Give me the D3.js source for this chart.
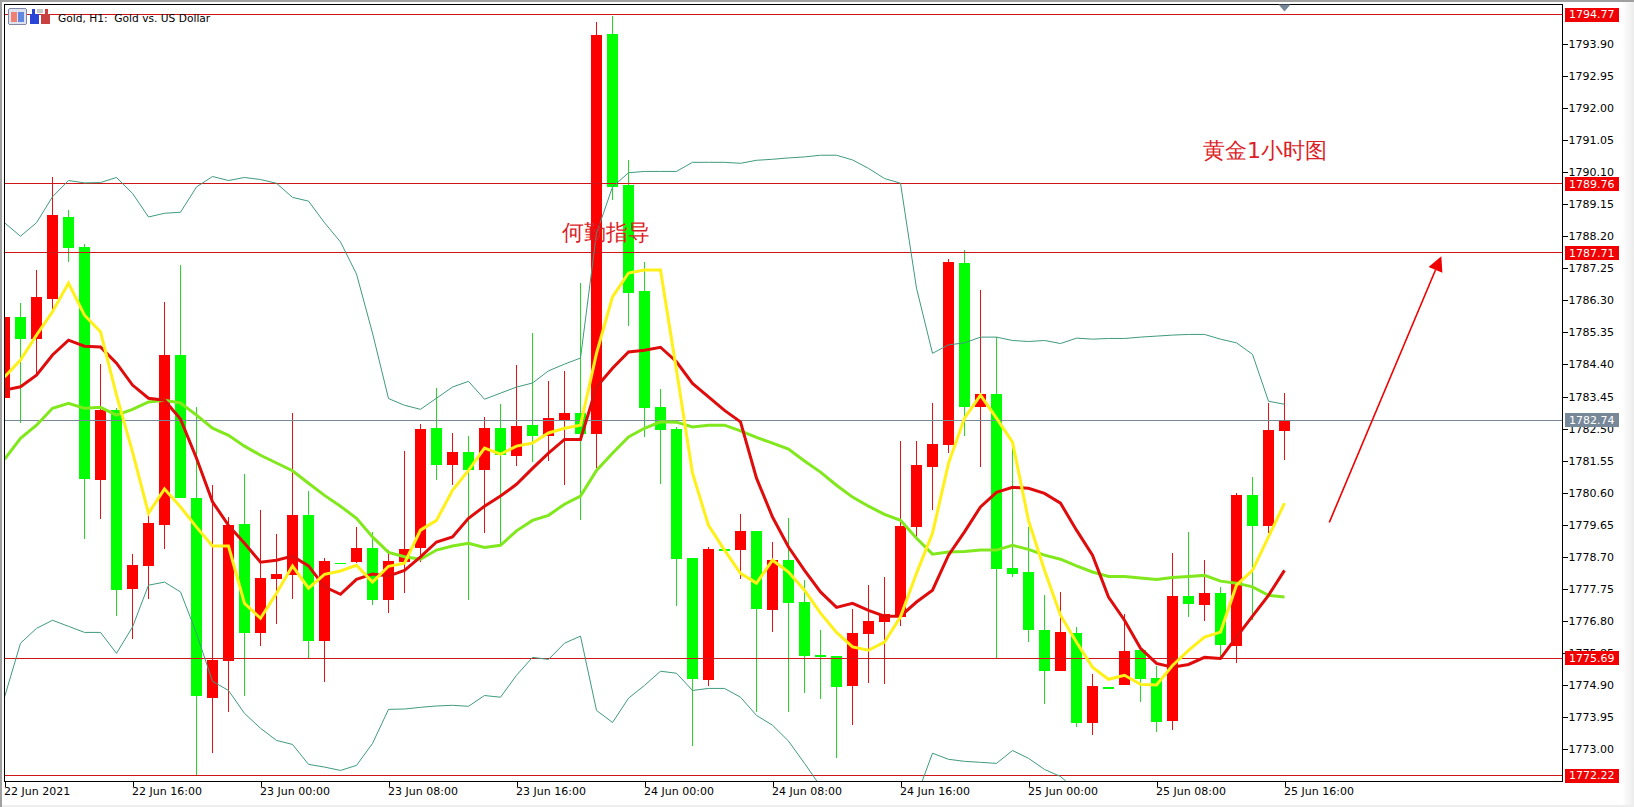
<!DOCTYPE html>
<html><head><meta charset="utf-8">
<script src="https://d3js.org/d3.v7.min.js"></script>
<style>html,body{margin:0;padding:0;background:#fff;overflow:hidden}svg{display:block}text{font-family:"DejaVu Sans",sans-serif}</style>
</head><body><svg id="c" width="1634" height="807"></svg>
<script>
const symbolTitle = "Gold, H1:  Gold vs. US Dollar";
const opens = [1783.40,1785.82,1785.15,1786.34,1788.77,1787.88,1780.98,1783.04,1777.74,1778.43,1779.63,1784.68,1780.44,1774.52,1775.62,1779.66,1776.44,1778.03,1778.16,1779.93,1776.21,1778.52,1778.54,1778.96,1777.41,1778.55,1778.96,1782.51,1781.41,1781.80,1781.26,1782.51,1781.68,1782.60,1782.27,1782.75,1782.96,1782.33,1794.19,1789.72,1786.57,1783.13,1782.48,1778.66,1775.04,1778.92,1778.90,1779.46,1777.11,1778.60,1777.35,1775.78,1775.75,1774.86,1776.40,1776.76,1776.92,1779.59,1781.36,1782.02,1787.40,1783.14,1783.52,1778.36,1778.24,1776.52,1775.32,1776.43,1773.79,1774.84,1774.89,1775.93,1775.10,1773.83,1777.53,1777.26,1777.62,1776.06,1780.52,1779.61,1782.42];
const closes = [1785.81,1785.15,1786.41,1788.83,1787.86,1781.00,1783.04,1777.71,1778.45,1779.69,1784.68,1780.44,1774.58,1775.64,1779.63,1776.44,1778.06,1778.18,1779.93,1776.21,1778.57,1778.52,1778.96,1777.41,1778.57,1778.93,1782.50,1781.41,1781.80,1781.26,1782.51,1781.71,1782.57,1782.27,1782.81,1782.96,1782.33,1794.16,1789.66,1786.52,1783.10,1782.45,1778.63,1775.07,1778.92,1778.92,1779.46,1777.14,1778.60,1777.33,1775.75,1775.78,1774.84,1776.43,1776.79,1777.02,1779.61,1781.41,1782.04,1787.43,1783.14,1783.52,1778.34,1778.19,1776.52,1775.32,1776.46,1773.79,1774.86,1774.84,1775.90,1775.07,1773.82,1777.53,1777.29,1777.62,1776.08,1780.52,1779.61,1782.45,1782.74];
const highs = [1785.81,1786.23,1787.20,1789.96,1788.97,1787.97,1784.41,1783.10,1778.78,1779.93,1786.26,1787.34,1783.14,1780.82,1779.87,1781.15,1780.08,1779.37,1782.96,1780.64,1778.66,1778.52,1779.58,1779.43,1778.90,1781.83,1782.63,1783.70,1782.37,1782.28,1782.85,1783.22,1784.38,1785.34,1783.90,1784.20,1786.81,1794.55,1794.73,1790.46,1787.43,1783.67,1782.55,1778.66,1779.00,1778.92,1779.96,1779.46,1779.13,1779.84,1778.00,1776.52,1775.75,1777.14,1777.86,1778.09,1782.13,1782.13,1783.25,1787.52,1787.79,1786.60,1785.21,1781.92,1779.58,1777.56,1777.65,1776.61,1775.22,1774.84,1777.00,1775.93,1775.45,1778.80,1779.43,1778.60,1777.80,1780.58,1781.07,1783.25,1783.55];
const lows = [1783.40,1782.66,1784.08,1786.01,1787.44,1779.23,1779.82,1776.95,1776.26,1777.44,1778.92,1780.44,1772.22,1772.88,1774.10,1774.58,1776.05,1776.71,1777.44,1775.69,1775.00,1778.52,1778.51,1777.27,1777.04,1777.63,1778.55,1780.97,1780.82,1777.41,1779.40,1779.07,1781.38,1781.50,1781.53,1780.82,1779.78,1781.32,1789.27,1785.53,1782.24,1780.85,1777.23,1773.08,1774.86,1778.92,1778.03,1774.10,1776.47,1774.10,1774.65,1774.48,1772.74,1773.71,1774.95,1774.93,1776.65,1779.29,1780.08,1781.78,1782.28,1781.36,1775.69,1778.10,1776.17,1774.34,1775.32,1773.65,1773.41,1774.84,1774.89,1774.39,1773.50,1773.56,1776.91,1776.79,1775.73,1775.55,1776.82,1779.40,1781.56];
const bandUpper = [1788.60,1788.20,1788.60,1789.37,1789.85,1789.78,1789.79,1789.94,1789.47,1788.77,1788.88,1788.91,1789.66,1789.97,1789.85,1789.94,1789.88,1789.77,1789.35,1789.24,1788.60,1788.03,1787.08,1785.33,1783.39,1783.19,1783.07,1783.40,1783.73,1783.90,1783.37,1783.55,1783.73,1783.85,1784.21,1784.41,1784.59,1788.29,1789.66,1790.08,1790.12,1790.12,1790.12,1790.39,1790.39,1790.39,1790.36,1790.45,1790.48,1790.52,1790.55,1790.60,1790.60,1790.46,1790.21,1789.91,1789.77,1786.66,1784.73,1784.98,1785.04,1785.21,1785.21,1785.11,1785.08,1785.11,1785.02,1785.18,1785.15,1785.17,1785.17,1785.21,1785.24,1785.27,1785.29,1785.29,1785.15,1785.04,1784.70,1783.31,1783.22];
const bandLower = [1774.54,1776.14,1776.58,1776.82,1776.64,1776.46,1776.46,1775.84,1776.62,1777.86,1777.95,1777.66,1776.43,1775.01,1774.74,1774.06,1773.62,1773.26,1773.14,1772.55,1772.47,1772.37,1772.52,1773.17,1774.18,1774.19,1774.24,1774.28,1774.30,1774.27,1774.59,1774.54,1775.19,1775.72,1775.66,1776.14,1776.35,1774.15,1773.79,1774.51,1774.89,1775.31,1775.25,1774.74,1774.80,1774.80,1774.54,1774.00,1773.71,1773.24,1772.58,1771.90,1771.33,1770.89,1770.59,1770.44,1770.74,1771.60,1772.88,1772.70,1772.64,1772.61,1772.58,1772.96,1772.73,1772.40,1772.19,1771.78,1771.20,1770.50,1769.90,1769.50,1769.30,1769.20,1769.10,1769.20,1769.30,1769.40,1769.80,1770.40,1770.80];
const maFast = [1784.03,1784.53,1785.27,1785.96,1786.81,1785.86,1785.37,1783.49,1781.81,1779.99,1780.71,1780.18,1779.58,1779.02,1779.02,1777.32,1776.88,1777.62,1778.43,1777.77,1778.18,1778.28,1778.45,1777.95,1778.42,1778.51,1779.49,1779.78,1780.67,1781.26,1781.92,1781.74,1781.98,1782.07,1782.37,1782.51,1782.60,1784.73,1786.40,1787.11,1787.20,1787.20,1784.23,1781.18,1779.63,1778.90,1778.21,1777.92,1778.60,1778.25,1777.71,1777.03,1776.46,1776.03,1775.93,1776.17,1776.92,1778.21,1779.40,1781.47,1782.81,1783.49,1782.81,1782.10,1779.78,1778.30,1776.97,1776.17,1775.43,1775.07,1775.19,1774.92,1774.90,1775.48,1775.93,1776.32,1776.47,1777.86,1778.30,1779.29,1780.29];
const maMid = [1783.64,1783.74,1784.08,1784.68,1785.12,1784.94,1784.92,1784.44,1783.79,1783.40,1783.34,1782.78,1781.62,1780.33,1779.63,1779.10,1778.54,1778.60,1778.72,1778.43,1777.81,1777.59,1778.03,1778.19,1778.13,1778.30,1778.70,1779.14,1779.29,1779.84,1780.20,1780.50,1780.85,1781.32,1781.77,1782.18,1782.18,1783.73,1784.29,1784.77,1784.82,1784.91,1784.48,1783.84,1783.44,1783.04,1782.70,1781.03,1779.88,1778.99,1778.30,1777.66,1777.20,1777.32,1777.11,1776.94,1776.94,1777.36,1777.71,1778.75,1779.44,1780.18,1780.61,1780.76,1780.73,1780.58,1780.29,1779.49,1778.75,1777.51,1776.82,1775.99,1775.54,1775.43,1775.51,1775.72,1775.69,1776.32,1776.94,1777.56,1778.30];
const maSlow = [1781.59,1782.21,1782.60,1783.10,1783.25,1783.10,1783.13,1782.90,1783.07,1783.29,1783.34,1783.26,1782.90,1782.51,1782.30,1781.98,1781.71,1781.48,1781.25,1780.88,1780.52,1780.20,1779.84,1779.29,1778.83,1778.70,1778.63,1778.90,1779.02,1779.10,1778.98,1779.04,1779.47,1779.78,1779.93,1780.26,1780.50,1781.26,1781.77,1782.25,1782.51,1782.70,1782.69,1782.55,1782.60,1782.60,1782.43,1782.24,1782.07,1781.89,1781.54,1781.21,1780.82,1780.47,1780.20,1779.96,1779.78,1779.25,1778.78,1778.84,1778.86,1778.90,1778.90,1779.04,1778.92,1778.75,1778.63,1778.43,1778.25,1778.12,1778.12,1778.07,1778.03,1778.09,1778.12,1778.15,1777.98,1777.92,1777.81,1777.56,1777.51];
const priceTicks = [1793.90,1792.95,1792.00,1791.05,1790.10,1789.15,1788.20,1787.25,1786.30,1785.35,1784.40,1783.45,1782.50,1781.55,1780.60,1779.65,1778.70,1777.75,1776.80,1775.85,1774.90,1773.95,1773.00];
const levels = [1794.77,1789.76,1787.71,1775.69,1772.22];
const lastPrice = 1782.74;
const timeTickIndex = [0,8,16,24,32,40,48,56,64,72,80];
const timeTickLabels = ["22 Jun 2021","22 Jun 16:00","23 Jun 00:00","23 Jun 08:00","23 Jun 16:00","24 Jun 00:00","24 Jun 08:00","24 Jun 16:00","25 Jun 00:00","25 Jun 08:00","25 Jun 16:00"];
const notes = [{text:"何勤指导",i:34.85,p:1788.08},{text:"黄金1小时图",i:74.9,p:1790.52}];
const arrowFrom = {i:82.8,p:1779.72}, arrowTo = {i:89.8,p:1787.61};

const W=1634,H=807,L=4.5,R=1562.5,T=4.5,B=781.5;
const svg=d3.select("#c");
const x=d3.scaleLinear().domain([0,80]).range([4.5,1284.5]);
const y=d3.scaleLinear().domain([1772.22,1794.77]).range([775.5,14.5]);
const RED="#ff0000",GRN="#00ff00";

// window chrome
svg.append("rect").attr("width",W).attr("height",H).attr("fill","#fff");
const grad=svg.append("defs").append("linearGradient").attr("id","edge");
grad.append("stop").attr("offset",0).attr("stop-color","#fff");
grad.append("stop").attr("offset",1).attr("stop-color","#ececec");
svg.append("rect").attr("x",1622).attr("y",0).attr("width",12).attr("height",H).attr("fill","url(#edge)");
svg.append("rect").attr("x",0).attr("y",805).attr("width",W).attr("height",2).attr("fill","#eeeeee");
svg.append("rect").attr("x",0).attr("y",0).attr("width",W).attr("height",2).attr("fill","#a0a0a0");
svg.append("rect").attr("x",0).attr("y",0).attr("width",2).attr("height",H).attr("fill","#a0a0a0");

svg.select("defs").append("clipPath").attr("id","plot").append("rect")
  .attr("x",L).attr("y",T).attr("width",R-L).attr("height",B-T);
const plot=svg.append("g").attr("clip-path","url(#plot)");

// candles
const candles=d3.range(opens.length).map(i=>({i,o:opens[i],c:closes[i],h:highs[i],l:lows[i]}));
const isUp=d=>d.c>d.o;
plot.append("g").attr("shape-rendering","crispEdges").selectAll("line").data(candles).join("line")
  .attr("x1",d=>x(d.i)).attr("x2",d=>x(d.i)).attr("y1",d=>y(d.h)).attr("y2",d=>y(d.l))
  .attr("stroke",d=>isUp(d)?"#e81010":"#28d828").attr("stroke-width",1);
plot.append("g").attr("shape-rendering","crispEdges").selectAll("rect").data(candles).join("rect")
  .attr("x",d=>x(d.i)-5.5).attr("width",11)
  .attr("y",d=>y(Math.max(d.o,d.c))).attr("height",d=>Math.max(1.5,y(Math.min(d.o,d.c))-y(Math.max(d.o,d.c))))
  .attr("fill",d=>isUp(d)?RED:GRN);

// horizontal levels
plot.append("g").attr("shape-rendering","crispEdges").selectAll("line").data(levels).join("line")
  .attr("x1",L).attr("x2",R).attr("y1",d=>y(d)).attr("y2",d=>y(d)).attr("stroke","#cf1515");
plot.append("line").attr("shape-rendering","crispEdges").attr("x1",L).attr("x2",R).attr("y1",y(lastPrice)).attr("y2",y(lastPrice)).attr("stroke","#778899");

// indicators
const line=d3.line().x((d,i)=>x(i)).y(d=>y(d));
[[bandUpper,"#3f9a7e",1],[bandLower,"#3f9a7e",1],[maSlow,"#80e81c",3],[maMid,"#e00c0c",3],[maFast,"#fff018",3]].forEach(([s,col,w])=>{
  plot.append("path").datum(s).attr("d",line).attr("fill","none").attr("stroke",col).attr("stroke-width",w).attr("stroke-linejoin","miter");
});

// frame
svg.append("rect").attr("x",L).attr("y",T).attr("width",R-L).attr("height",B-T).attr("fill","none").attr("stroke","#000").attr("shape-rendering","crispEdges");

// price axis
const axR=svg.append("g").attr("transform",`translate(${R},0)`).call(d3.axisRight(y).tickValues(priceTicks).tickFormat(d3.format(".2f")).tickSize(5).tickPadding(1));
axR.select(".domain").remove();
axR.selectAll("line").attr("stroke","#000").attr("shape-rendering","crispEdges");
axR.selectAll("text").attr("fill","#000").attr("font-size",11).attr("font-family","DejaVu Sans");

// time axis
const axB=svg.append("g").attr("transform",`translate(0,${B})`).call(d3.axisBottom(x).tickValues(timeTickIndex).tickFormat((d,i)=>timeTickLabels[i]).tickSize(5).tickPadding(2));
axB.select(".domain").remove();
axB.selectAll("line").attr("stroke","#000").attr("shape-rendering","crispEdges");
axB.selectAll("text").attr("text-anchor","start").attr("dx","-1").attr("fill","#000").attr("font-size",11).attr("font-family","DejaVu Sans").attr("dy","0.6em");

// price badges
const badge=(p,col)=>{
  const g=svg.append("g");
  g.append("rect").attr("x",1565).attr("y",Math.round(y(p))-7).attr("width",54).attr("height",14).attr("fill",col);
  g.append("text").attr("x",1569).attr("y",y(p)).attr("dy","0.36em").attr("fill","#fff").attr("font-size",11).text(d3.format(".2f")(p));
};
levels.forEach(p=>badge(p,"#f00000"));
badge(lastPrice,"#778899");

// shift marker
svg.append("path").attr("d",d3.line()([[x(80)-6,T],[x(80)+6,T],[x(80),T+7]])).attr("fill","#778899");

// icons and title
const ic=svg.append("g").attr("shape-rendering","crispEdges");
ic.append("rect").attr("x",8.5).attr("y",8.5).attr("width",18).attr("height",16).attr("rx",2).attr("fill","#dfe3f0").attr("stroke","#8088a8");
ic.append("rect").attr("x",11).attr("y",12).attr("width",6).attr("height",10).attr("fill","#f08070");
ic.append("rect").attr("x",18).attr("y",12).attr("width",6).attr("height",10).attr("fill","#6088e0");
ic.append("rect").attr("x",30).attr("y",14).attr("width",9).attr("height",10).attr("rx",1).attr("fill","#2a44d8");
ic.append("rect").attr("x",32).attr("y",9).attr("width",3).attr("height",6).attr("fill","#2a44d8");
ic.append("rect").attr("x",41).attr("y",14).attr("width",9).attr("height",10).attr("rx",1).attr("fill","#c84040");
ic.append("rect").attr("x",45).attr("y",9).attr("width",3).attr("height",6).attr("fill","#c84040");
ic.append("rect").attr("x",37).attr("y",9).attr("width",6).attr("height",4).attr("fill","#c8c8c8");
svg.append("text").attr("x",58).attr("y",22).attr("font-size",10.65).attr("fill","#000").style("white-space","pre")
  .attr("font-family","DejaVu Sans").text(symbolTitle);

// annotations
svg.selectAll(".note").data(notes).join("text").attr("class","note")
  .attr("x",d=>x(d.i)).attr("y",d=>y(d.p)).attr("font-size",22).attr("fill","#dc1e28").attr("font-weight",500)
  .attr("font-family","'Noto Sans CJK SC'").text(d=>d.text);

// arrow
const ax0=x(arrowFrom.i),ay0=y(arrowFrom.p),ax1=x(arrowTo.i),ay1=y(arrowTo.p);
const ang=Math.atan2(ay1-ay0,ax1-ax0),hl=15,hw=7.5;
const bx=ax1-hl*Math.cos(ang),by=ay1-hl*Math.sin(ang);
svg.append("line").attr("x1",ax0).attr("y1",ay0).attr("x2",bx).attr("y2",by).attr("stroke","#f00000").attr("stroke-width",1.6);
svg.append("path").attr("fill","#f00000").attr("d",d3.line()([[ax1,ay1],[bx-hw*Math.sin(ang),by+hw*Math.cos(ang)],[bx+hw*Math.sin(ang),by-hw*Math.cos(ang)]]));
</script></body></html>
